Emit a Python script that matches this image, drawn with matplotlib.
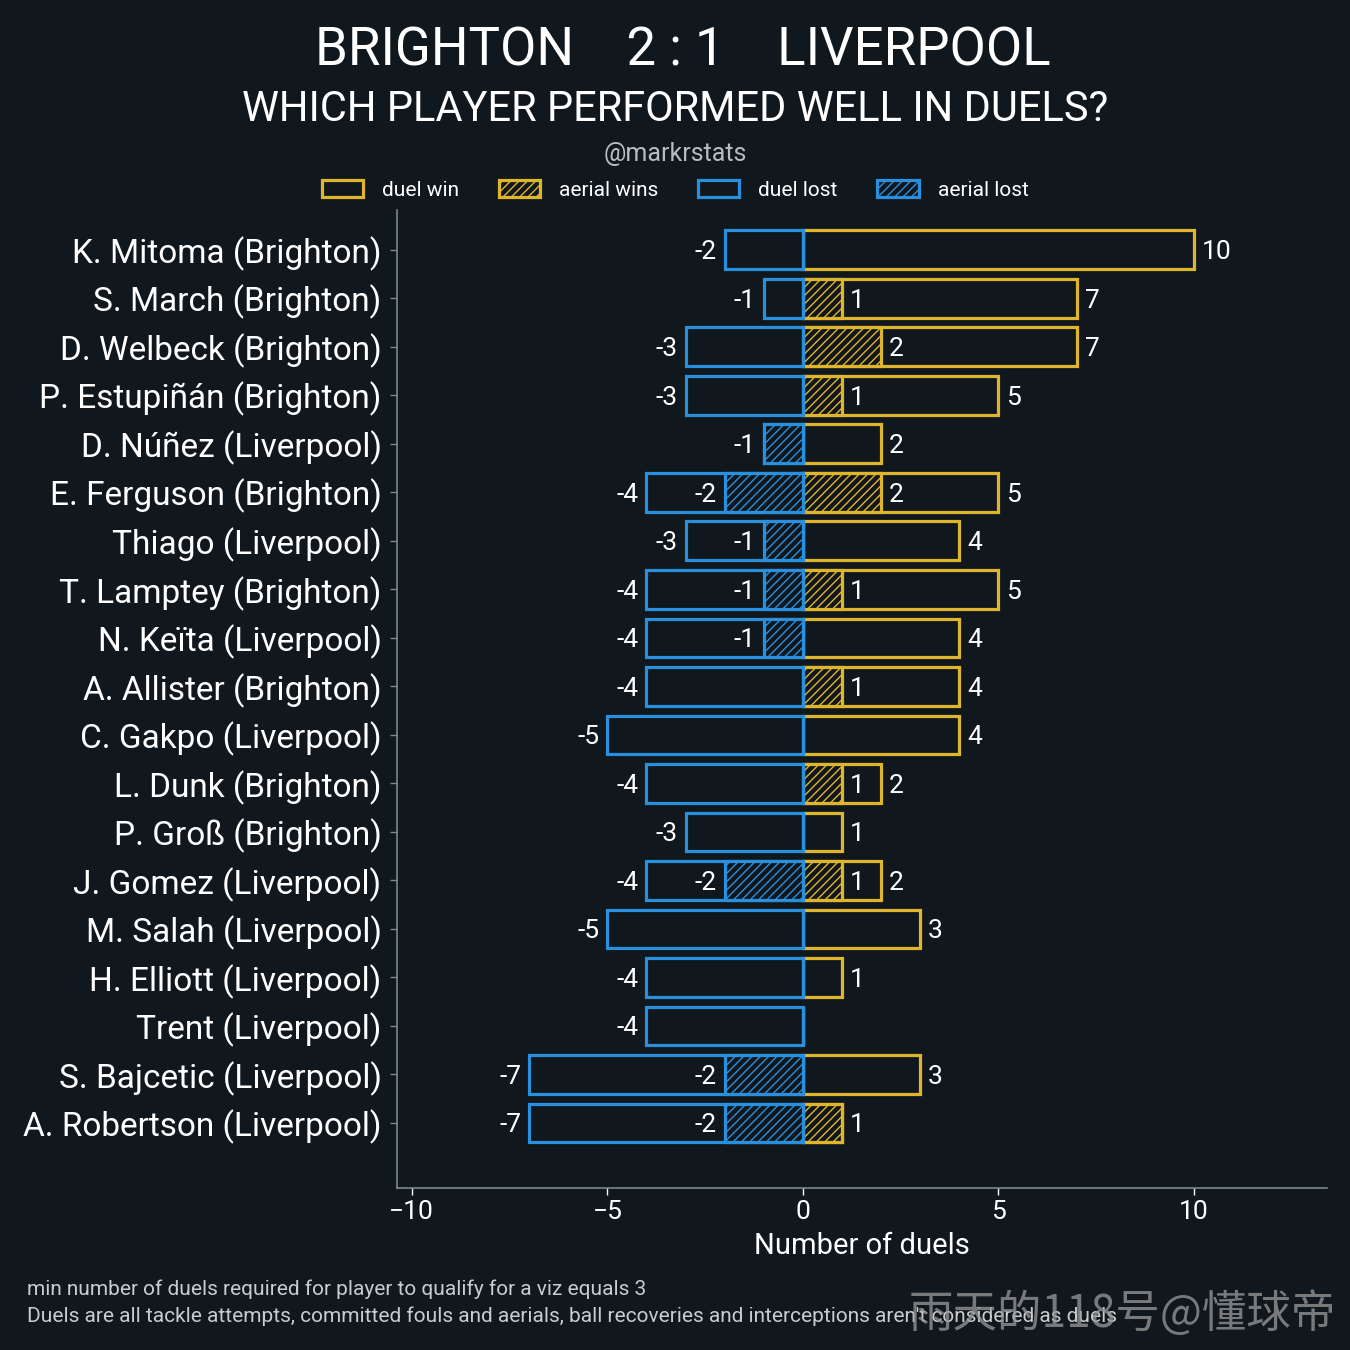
"""Brighton 2:1 Liverpool - duel win / loss per player (diverging bars)."""
import matplotlib
matplotlib.use("Agg")
import matplotlib.pyplot as plt
from matplotlib.patches import Patch

BG = "#10181e"
YELLOW = "#dfb52c"
BLUE = "#2a8fdc"
SPINE = "#7a8a90"

plt.rcParams.update({
    "font.family": ["Roboto", "DejaVu Sans"],
    "text.color": "white",
    "axes.labelcolor": "white",
    "xtick.color": "white",
    "ytick.color": "white",
    "hatch.linewidth": 1.0,
})

# ---- data (top to bottom) ----
players = [
    "K. Mitoma (Brighton)", "S. March (Brighton)", "D. Welbeck (Brighton)",
    "P. Estupiñán (Brighton)", "D. Núñez (Liverpool)", "E. Ferguson (Brighton)",
    "Thiago (Liverpool)", "T. Lamptey (Brighton)", "N. Keïta (Liverpool)",
    "A. Allister (Brighton)", "C. Gakpo (Liverpool)", "L. Dunk (Brighton)",
    "P. Groß (Brighton)", "J. Gomez (Liverpool)", "M. Salah (Liverpool)",
    "H. Elliott (Liverpool)", "Trent (Liverpool)", "S. Bajcetic (Liverpool)",
    "A. Robertson (Liverpool)",
]
duel_win = [10, 7, 7, 5, 2, 5, 4, 5, 4, 4, 4, 2, 1, 2, 3, 1, 0, 3, 1]
aerial_win = [0, 1, 2, 1, 0, 2, 0, 1, 0, 1, 0, 1, 0, 1, 0, 0, 0, 0, 1]
duel_lost = [-2, -1, -3, -3, -1, -4, -3, -4, -4, -4, -5, -4, -3, -4, -5, -4, -4, -7, -7]
aerial_lost = [0, 0, 0, 0, -1, -2, -1, -1, -1, 0, 0, 0, 0, -2, 0, 0, 0, -2, -2]

ypos = list(range(len(players)))
H = 0.8
LW = 2.3

fig = plt.figure(figsize=(13.5, 13.5), dpi=100, facecolor=BG)
ax = fig.add_axes([0.294, 0.12, 0.689, 0.7244])
ax.set_facecolor(BG)

ax.barh(ypos, duel_win, height=H, color=BG, edgecolor=YELLOW, linewidth=LW)
ax.barh(ypos, aerial_win, height=H, color=BG, edgecolor=YELLOW,
        linewidth=LW, hatch="////")
ax.barh(ypos, duel_lost, height=H, color=BG, edgecolor=BLUE, linewidth=LW)
ax.barh(ypos, aerial_lost, height=H, color=BG, edgecolor=BLUE,
        linewidth=LW, hatch="////")

fs_val = 19
for y, w, aw, l, al in zip(ypos, duel_win, aerial_win, duel_lost, aerial_lost):
    if w:
        ax.text(w + 0.2, y, f"{w}", va="center_baseline", ha="left",
                fontsize=fs_val)
    if aw and aw != w:
        ax.text(aw + 0.2, y, f"{aw}", va="center_baseline", ha="left",
                fontsize=fs_val)
    if l:
        ax.text(l - 0.2, y, f"{l}", va="center_baseline", ha="right",
                fontsize=fs_val)
    if al and al != l:
        ax.text(al - 0.2, y, f"{al}", va="center_baseline", ha="right",
                fontsize=fs_val)

ax.set_yticks(ypos)
ax.set_yticklabels(players, fontsize=24)
ax.set_ylim(len(players) - 1 + 1.34, -0.82)
ax.set_xlim(-10.38, 13.4)
ax.set_xticks([-10, -5, 0, 5, 10])
ax.tick_params(axis="x", labelsize=19, length=5, width=1, color="white")
ax.tick_params(axis="y", length=5, width=1, color=SPINE, pad=6)
ax.set_xlabel("Number of duels", fontsize=21, labelpad=6)

for s in ["top", "right"]:
    ax.spines[s].set_visible(False)
for s in ["left", "bottom"]:
    ax.spines[s].set_color(SPINE)
    ax.spines[s].set_linewidth(1.2)

# ---- legend ----
handles = [
    Patch(facecolor=BG, edgecolor=YELLOW, linewidth=LW, label="duel win"),
    Patch(facecolor=BG, edgecolor=YELLOW, linewidth=LW, hatch="////",
          label="aerial wins"),
    Patch(facecolor=BG, edgecolor=BLUE, linewidth=LW, label="duel lost"),
    Patch(facecolor=BG, edgecolor=BLUE, linewidth=LW, hatch="////",
          label="aerial lost"),
]
fig.legend(handles=handles, loc="center", bbox_to_anchor=(0.5, 0.8595),
           ncol=4, frameon=False, fontsize=15, handlelength=2.0,
           handleheight=0.9, columnspacing=1.9, handletextpad=0.9)

# ---- titles ----
fig.text(0.506, 0.962, "BRIGHTON    2 : 1    LIVERPOOL", ha="center",
         va="center", fontsize=38)
fig.text(0.5, 0.919, "WHICH PLAYER PERFORMED WELL IN DUELS?", ha="center",
         va="center", fontsize=30)
fig.text(0.5, 0.886, "@markrstats", ha="center", va="center",
         fontsize=18, color="#b8bcbe")

fig.text(0.02, 0.045, "min number of duels required for player to qualify "
         "for a viz equals 3", ha="left", va="center", fontsize=15,
         color="#c9cccd")
fig.text(0.02, 0.025, "Duels are all tackle attempts, committed fouls and "
         "aerials, ball recoveries and interceptions aren't considered as duels",
         ha="left", va="center", fontsize=15, color="#c9cccd")

fig.text(0.99, 0.027, "雨天的118号@懂球帝", ha="right", va="center",
         fontsize=32, color="#9a9a9a", alpha=0.75,
         family=["Noto Sans CJK SC", "DejaVu Sans"])

fig.savefig("out.png", dpi=100, facecolor=BG)
